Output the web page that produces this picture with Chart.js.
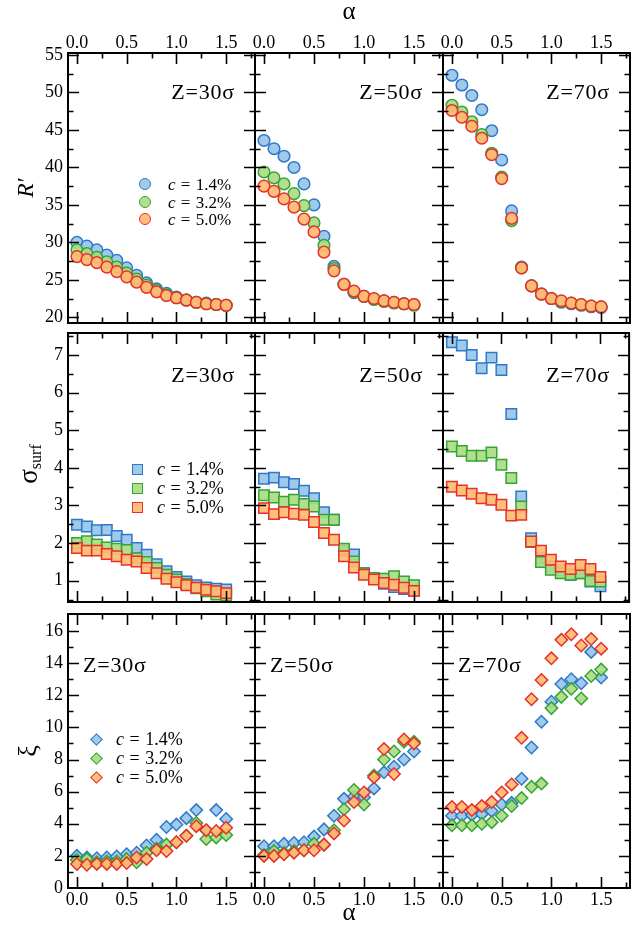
<!DOCTYPE html>
<html><head><meta charset="utf-8">
<script src="https://cdn.jsdelivr.net/npm/chart.js@4.4.0/dist/chart.umd.min.js"></script>
<style>
html,body{margin:0;padding:0;background:#fff;}
#wrap{position:relative;width:638px;height:926px;overflow:hidden;font-family:"Liberation Serif","DejaVu Serif",serif;color:#000;}
canvas.layer{position:absolute;left:0;top:0;}
.txt{position:absolute;white-space:nowrap;line-height:1;}
.mk{position:absolute;box-sizing:border-box;border-style:solid;border-width:1.5px;}
</style></head>
<body><div id="wrap"></div>
<script>
// ---------- data ----------
const alpha = [0.0,0.1,0.2,0.3,0.4,0.5,0.6,0.7,0.8,0.9,1.0,1.1,1.2,1.3,1.4,1.5];
const concLabels = ['1.4%','3.2%','5.0%'];
const zLabels = ['Z=30σ','Z=50σ','Z=70σ'];

// R'
const R_Z30_c14 = [30.0,29.5,29.0,28.3,27.6,26.6,25.6,24.6,23.8,23.2,22.7,22.3,22.0,21.9,21.7,21.6];
const R_Z30_c32 = [29.0,28.5,28.0,27.4,26.7,25.9,25.1,24.3,23.6,23.0,22.6,22.3,22.0,21.8,21.7,21.6];
const R_Z30_c50 = [28.1,27.7,27.3,26.7,26.1,25.4,24.7,24.0,23.4,22.9,22.6,22.3,22.0,21.8,21.7,21.6];
const R_Z50_c14 = [43.6,42.5,41.5,40.0,37.8,35.0,30.8,26.8,24.4,23.3,22.8,22.4,22.2,22.0,21.8,21.7];
const R_Z50_c32 = [39.4,38.6,37.8,36.5,34.9,32.6,29.6,26.5,24.4,23.4,22.8,22.4,22.1,21.9,21.8,21.6];
const R_Z50_c50 = [37.5,36.8,35.8,34.7,33.1,31.4,28.7,26.2,24.4,23.5,22.8,22.5,22.2,22.0,21.8,21.7];
const R_Z70_c14 = [52.3,51.0,49.6,47.7,44.9,41.0,34.2,26.7,24.2,23.1,22.5,22.0,21.8,21.6,21.4,21.3];
const R_Z70_c32 = [48.3,47.4,46.1,44.4,41.9,38.7,32.9,26.6,24.2,23.1,22.5,22.1,21.9,21.7,21.5,21.4];
const R_Z70_c50 = [47.6,46.7,45.5,43.9,41.7,38.5,33.2,26.6,24.2,23.1,22.5,22.2,21.9,21.7,21.5,21.4];

// sigma_surf
const S_Z30_c14 = [2.49,2.44,2.34,2.35,2.19,2.09,1.87,1.69,1.44,1.25,1.10,0.98,0.88,0.82,0.79,0.77];
const S_Z30_c32 = [2.00,2.05,1.96,1.88,1.85,1.82,1.60,1.50,1.34,1.16,1.03,0.91,0.80,0.72,0.63,0.61];
const S_Z30_c50 = [1.87,1.80,1.80,1.71,1.65,1.56,1.51,1.34,1.20,1.05,0.96,0.88,0.81,0.76,0.72,0.67];
const S_Z50_c14 = [3.71,3.74,3.62,3.57,3.39,3.19,2.82,2.62,1.80,1.70,1.20,1.05,0.92,0.83,0.78,0.74];
const S_Z50_c32 = [3.27,3.21,3.10,3.15,3.04,2.97,2.62,2.62,1.85,1.51,1.20,1.07,1.05,1.12,0.98,0.88];
const S_Z50_c50 = [2.93,2.77,2.82,2.78,2.75,2.56,2.27,2.09,1.65,1.35,1.16,1.03,0.94,0.89,0.81,0.73];
const S_Z70_c14 = [7.34,7.25,7.00,6.65,6.93,6.60,5.43,3.24,2.13,1.60,1.38,1.27,1.16,1.20,0.98,0.85];
const S_Z70_c32 = [4.57,4.45,4.32,4.32,4.41,4.08,3.73,2.97,2.03,1.50,1.29,1.20,1.16,1.20,0.99,0.98];
const S_Z70_c50 = [3.50,3.40,3.31,3.19,3.15,3.02,2.73,2.75,2.04,1.80,1.56,1.38,1.31,1.42,1.31,1.10];

// xi
const X_Z30_c14 = [2.00,1.90,1.85,1.90,1.96,2.10,2.20,2.65,3.00,3.80,3.95,4.35,4.85,3.60,4.85,4.30];
const X_Z30_c32 = [1.75,1.80,1.60,1.65,1.65,1.80,1.60,2.20,2.45,2.70,2.85,3.25,4.05,3.05,3.15,3.30];
const X_Z30_c50 = [1.50,1.45,1.50,1.50,1.50,1.55,1.90,1.80,2.35,2.30,2.85,3.25,3.85,3.60,3.55,3.75];
const X_Z50_c14 = [2.60,2.60,2.75,2.80,2.85,3.20,3.65,4.50,5.55,5.70,5.65,6.20,7.20,7.55,8.00,8.50];
const X_Z50_c32 = [2.05,2.30,2.20,2.30,2.35,2.75,2.70,3.60,4.90,6.10,5.20,7.00,8.00,8.50,9.10,9.10];
const X_Z50_c50 = [2.00,2.00,2.10,2.20,2.35,2.35,2.70,3.40,4.20,5.35,5.95,6.90,8.65,7.10,9.25,9.00];
const X_Z70_c14 = [4.50,4.50,4.55,4.60,4.80,5.20,5.30,6.80,8.75,10.35,11.60,12.70,13.00,12.75,14.70,13.10];
const X_Z70_c32 = [3.90,3.90,3.90,4.00,4.10,4.50,5.10,5.60,6.30,6.50,11.20,11.90,12.40,11.80,13.20,13.60];
const X_Z70_c50 = [5.05,5.05,4.85,5.10,5.35,5.95,6.45,9.35,11.75,12.95,14.30,15.45,15.80,15.10,15.50,14.90];

// tick values
const xMajorTicks = [0.0,0.5,1.0,1.5];
const xMinorTicks = [0.25,0.75,1.25,1.75];
const rMajorTicks = [20,25,30,35,40,45,50,55];
const rMinorTicks = [22.5,27.5,32.5,37.5,42.5,47.5,52.5];
const sMajorTicks = [1,2,3,4,5,6,7];
const sMinorTicks = [0.5,1.5,2.5,3.5,4.5,5.5,6.5,7.5];
const xiMajorTicks = [0,2,4,6,8,10,12,14,16];
const xiMinorTicks = [1,3,5,7,9,11,13,15];

// ---------- layout / style ----------
const W = 638, H = 926;
const COL_L = [68,255,443], COL_R = [255,443,630];
const ROW_T = [53,333,614], ROW_B = [323,602,888];
const X_MIN = -0.09, X_MAX = 1.79;
const SERIF = '"Liberation Serif","DejaVu Serif",serif';
const FILLS = ['rgba(152,198,232,0.92)','rgba(170,220,132,0.92)','rgba(255,186,114,0.92)'];
const BORDERS = ['#2f78c9','#34a535','#e6302a'];

const rows = [
  {series:[[R_Z30_c14,R_Z30_c32,R_Z30_c50],[R_Z50_c14,R_Z50_c32,R_Z50_c50],[R_Z70_c14,R_Z70_c32,R_Z70_c50]],
   min:19.24, max:55.27, major:rMajorTicks, minor:rMinorTicks, shape:'circle', radius:5.8},
  {series:[[S_Z30_c14,S_Z30_c32,S_Z30_c50],[S_Z50_c14,S_Z50_c32,S_Z50_c50],[S_Z70_c14,S_Z70_c32,S_Z70_c50]],
   min:0.434, max:7.585, major:sMajorTicks, minor:sMinorTicks, shape:'rect', radius:7.4},
  {series:[[X_Z30_c14,X_Z30_c32,X_Z30_c50],[X_Z50_c14,X_Z50_c32,X_Z50_c50],[X_Z70_c14,X_Z70_c32,X_Z70_c50]],
   min:0, max:17.06, major:xiMajorTicks, minor:xiMinorTicks, shape:'rectRot', radius:6.2}
];

const frameTicks = {
  id:'frameTicks',
  afterDatasetsDraw(chart, args, opts){
    const {ctx, chartArea:a, scales:{x,y}} = chart;
    ctx.save();
    ctx.strokeStyle = '#000';
    ctx.lineWidth = 1.6;
    ctx.beginPath();
    const xt = (vals,len)=>vals.forEach(v=>{
      const p = Math.round(x.getPixelForValue(v))+0.5;
      if (p < a.left+1 || p > a.right-1) return;
      ctx.moveTo(p,a.top); ctx.lineTo(p,a.top+len);
      ctx.moveTo(p,a.bottom); ctx.lineTo(p,a.bottom-len);
    });
    const yt = (vals,len)=>vals.forEach(v=>{
      const p = Math.round(y.getPixelForValue(v))+0.5;
      if (p < a.top+1 || p > a.bottom-1) return;
      ctx.moveTo(a.left,p); ctx.lineTo(a.left+len,p);
      ctx.moveTo(a.right,p); ctx.lineTo(a.right-len,p);
    });
    xt(opts.xMajor,11); xt(opts.xMinor,5.5);
    yt(opts.yMajor,11); yt(opts.yMinor,5.5);
    ctx.stroke();
    ctx.lineWidth = 2;
    ctx.strokeRect(a.left, a.top, a.right-a.left, a.bottom-a.top);
    ctx.restore();
  }
};

const wrap = document.getElementById('wrap');

function makePanel(r,c){
  const cv = document.createElement('canvas');
  cv.width = W; cv.height = H; cv.className = 'layer';
  wrap.appendChild(cv);
  const row = rows[r];
  const datasets = row.series[c].map((vals,i)=>({
    label:'c = '+concLabels[i],
    data: alpha.map((a,k)=>({x:a,y:vals[k]})),
    pointStyle: row.shape,
    pointRadius: row.radius,
    pointBorderWidth: 1.5,
    backgroundColor: FILLS[i],
    borderColor: BORDERS[i],
    showLine:false,
    order: 2-i
  }));
  const showX = (r===0 || r===2);
  const showY = (c===0);
  const padding = {
    left: showY ? 0 : COL_L[c],
    right: W - COL_R[c],
    top: r===0 ? 0 : ROW_T[r],
    bottom: r===2 ? 0 : H - ROW_B[r]
  };
  const yTitle = r===0 ? {display:true, text:'R′', color:'#000', font:{family:SERIF,size:23,style:'italic',lineHeight:1}, padding:{top:15,bottom:0}}
               : r===2 ? {display:true, text:'ξ', color:'#000', font:{family:SERIF,size:26,lineHeight:1}, padding:{top:16,bottom:0}}
               : {display:false};
  new Chart(cv,{
    type:'scatter',
    data:{datasets},
    options:{
      responsive:false, animation:false, devicePixelRatio:1, events:[],
      layout:{padding},
      plugins:{legend:{display:false}, tooltip:{enabled:false},
        frameTicks:{xMajor:xMajorTicks, xMinor:xMinorTicks, yMajor:row.major, yMinor:row.minor}},
      scales:{
        x:{type:'linear', position: r===0?'top':'bottom', min:X_MIN, max:X_MAX, display:showX,
           grid:{display:false, drawTicks:false}, border:{display:false},
           afterBuildTicks:s=>{ s.ticks = xMajorTicks.map(v=>({value:v})); },
           afterFit:s=>{ if(showX) s.height = (r===0 ? ROW_T[0] : H-ROW_B[2]); },
           ticks:{font:{family:SERIF,size:18,lineHeight:1}, color:'#000', padding: r===0?1:3,
                  maxRotation:0, autoSkip:false, callback:v=>Number(v).toFixed(1)},
           title:{display:(c===1), text:'α', color:'#000', font:{family:SERIF,size:25,lineHeight:1}, padding:{top:0,bottom:0}}
        },
        y:{type:'linear', position:'left', min:row.min, max:row.max, display:showY,
           grid:{display:false, drawTicks:false}, border:{display:false},
           afterBuildTicks:s=>{ s.ticks = row.major.map(v=>({value:v})); },
           afterFit:s=>{ if(showY) s.width = COL_L[0]; },
           ticks:{font:{family:SERIF,size:18,lineHeight:1}, color:'#000', padding:5, autoSkip:false, callback:v=>String(v)},
           title:yTitle
        }
      }
    },
    plugins:[frameTicks]
  });
}

for (let r=0;r<3;r++) for (let c=0;c<3;c++) makePanel(r,c);

// ---------- HTML annotations ----------
function addText(html, style){
  const d = document.createElement('div');
  d.className = 'txt';
  d.innerHTML = html;
  Object.assign(d.style, style);
  wrap.appendChild(d);
  return d;
}
const zFont = 22;
for (let c=0;c<3;c++){
  addText(zLabels[c], {fontSize:zFont+'px', letterSpacing:'0.8px', right:(W-COL_R[c]+20)+'px', top:(91.5-zFont*0.5)+'px'});
  addText(zLabels[c], {fontSize:zFont+'px', letterSpacing:'0.8px', right:(W-COL_R[c]+20)+'px', top:(375-zFont*0.5)+'px'});
  addText(zLabels[c], {fontSize:zFont+'px', letterSpacing:'0.8px', left:(COL_L[c]+15)+'px', top:(665-zFont*0.5)+'px'});
}
// sigma_surf y title (rotated)
addText('σ<sub style="font-size:16px;vertical-align:-4px;">surf</sub>',
  {fontSize:27+'px', left:'29px', top:'464px', transform:'translate(-50%,-50%) rotate(-90deg)'});

// legends (one per row, in first column)
const legendSpecs = [
  {shape:'circle', mx:145, ys:[184,202,219], tx:168, size:17, sz:12},
  {shape:'square', mx:137, ys:[469,488,507], tx:157, size:18, sz:11},
  {shape:'diamond', mx:96, ys:[739,758,777], tx:116, size:18, sz:9}
];
legendSpecs.forEach(L=>{
  L.ys.forEach((cy,i)=>{
    const m = document.createElement('div');
    m.className = 'mk';
    Object.assign(m.style, {
      width:L.sz+'px', height:L.sz+'px', left:(L.mx-L.sz/2)+'px', top:(cy-L.sz/2)+'px',
      background:FILLS[i], borderColor:BORDERS[i],
      borderRadius: L.shape==='circle' ? '50%' : '0',
      transform: L.shape==='diamond' ? 'rotate(45deg)' : 'none'
    });
    wrap.appendChild(m);
    addText('<i>c</i> = '+concLabels[i], {fontSize:L.size+'px', left:L.tx+'px', top:(cy-L.size*0.5)+'px', wordSpacing:'1px'});
  });
});
</script>
</body></html>
